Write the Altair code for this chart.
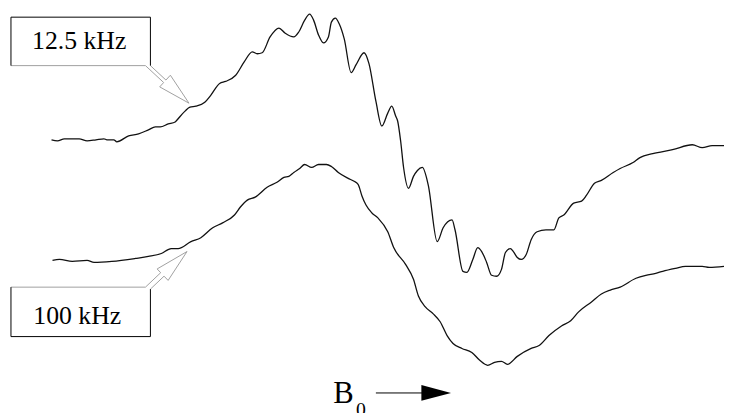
import altair as alt
import pandas as pd

# ---- data (field = horizontal position, defl = vertical position, screen-down) ----
top_field = [52, 58, 65, 80, 88, 97, 105, 108, 115, 118, 130, 140, 150, 157, 162, 170, 177, 178,
             187, 192, 198, 207, 213, 222, 228, 238, 247, 255, 260, 265, 273, 282, 288, 297, 302,
             308, 313, 317, 322, 327, 332, 335, 339, 343, 348, 355, 360, 368, 373, 380, 386, 392,
             396, 400, 402, 405, 408, 413, 418, 422, 427, 433, 442, 448, 457, 460, 468, 472, 478,
             483, 487, 492, 497, 502, 507, 511, 516, 519, 523, 527, 532, 537, 543, 552, 560, 565,
             570, 580, 588, 593, 601, 608, 620, 627, 640, 647, 660, 680, 700, 710, 720, 732]
top_defl = [139, 140, 138, 138, 140, 139, 138, 139, 139, 141, 135, 133, 129, 126, 126, 123, 121, 120,
            110, 106, 105, 101, 94, 82, 80, 74, 60, 50, 52, 51, 35, 26, 31, 35, 30,
            18, 12, 18, 33, 41, 35, 20, 16, 22, 37, 71, 63, 51, 62, 100, 125, 112,
            105, 115, 120, 140, 167, 188, 176, 170, 167, 185, 242, 228, 220, 230, 272, 273, 260,
            248, 252, 263, 276, 277, 270, 253, 249, 252, 258, 260, 255, 240, 232, 230, 230, 218,
            215, 203, 201, 195, 183, 180, 172, 168, 162, 157, 153, 149, 144, 147, 145, 145]

bot_field = [53, 60, 73, 88, 95, 113, 137, 150, 163, 173, 180, 193, 203, 215, 225, 237, 243, 250,
             258, 270, 280, 287, 292, 297, 303, 308, 315, 322, 330, 335, 342, 352, 358, 362, 366,
             370, 376, 382, 392, 398, 410, 418, 423, 430, 438, 445, 452, 458, 467, 477, 485, 493,
             500, 507, 513, 523, 537, 545, 555, 568, 577, 585, 598, 608, 617, 627, 643, 653, 663,
             670, 683, 693, 710, 717, 732]
bot_defl = [261, 260, 262, 261, 263, 262, 259, 257, 254, 249, 249, 242, 238, 228, 223, 215, 207, 200,
            197, 187, 182, 177, 176, 172, 168, 164, 167, 164, 164, 166, 172, 178, 181, 184, 196,
            205, 213, 218, 232, 248, 265, 280, 297, 308, 315, 323, 337, 345, 350, 354, 362, 367,
            364, 363, 366, 358, 350, 347, 337, 327, 322, 313, 303, 295, 291, 288, 279, 276, 274,
            272, 269, 267, 267, 268, 267]

# callout outlines (annotation geometry)
grey_part = ["a"] * 8 + ["b"] * 8
grey_x = [11, 147, 165.4, 161.4, 191, 172.2, 167.7, 152,
          11, 147, 162.4, 158.8, 189, 169.9, 165.8, 152]
grey_y = [64, 64, 81.1, 85.5, 102, 73.7, 78.6, 64,
          288, 288, 273.4, 269.6, 252, 281.2, 276.9, 290]
black_part = ["a"] * 4 + ["b"] * 4
black_x = [11, 11, 152, 152, 152, 152, 11, 11]
black_y = [64, 15, 15, 64, 290, 338, 338, 288]

label_text = ["12.5 kHz", "100 kHz"]
label_x = [80, 78]
label_y = [47, 325]

X = alt.Scale(domain=[8, 732])
Y = alt.Scale(domain=[8, 413], reverse=True)

curves = pd.concat([
    pd.DataFrame({"field": top_field, "defl": top_defl, "trace": "12.5 kHz"}),
    pd.DataFrame({"field": bot_field, "defl": bot_defl, "trace": "100 kHz"}),
])
grey_df = pd.DataFrame({"x": grey_x, "y": grey_y, "part": grey_part, "i": list(range(len(grey_x)))})
black_df = pd.DataFrame({"x": black_x, "y": black_y, "part": black_part, "i": list(range(len(black_x)))})
labels_df = pd.DataFrame({"t": label_text, "x": label_x, "y": label_y})

curve_layer = alt.Chart(curves).mark_line(
    color="#111111", strokeWidth=1.3, interpolate="monotone"
).encode(
    x=alt.X("field:Q", scale=X, axis=None),
    y=alt.Y("defl:Q", scale=Y, axis=None),
    detail="trace:N",
)

grey_layer = alt.Chart(grey_df).mark_line(color="#a0a0a0", strokeWidth=1).encode(
    x=alt.X("x:Q", scale=X, axis=None),
    y=alt.Y("y:Q", scale=Y, axis=None),
    detail="part:N",
    order="i:Q",
)
black_layer = alt.Chart(black_df).mark_line(color="#000000", strokeWidth=1).encode(
    x=alt.X("x:Q", scale=X, axis=None),
    y=alt.Y("y:Q", scale=Y, axis=None),
    detail="part:N",
    order="i:Q",
)
label_layer = alt.Chart(labels_df).mark_text(
    font="Liberation Serif", fontSize=26, color="#000000", align="center", baseline="alphabetic"
).encode(
    x=alt.X("x:Q", scale=X, axis=None),
    y=alt.Y("y:Q", scale=Y, axis=None),
    text="t:N",
)

b_df = pd.DataFrame({"t": ["B"], "x": [337], "y": [405]})
sub_df = pd.DataFrame({"t": ["0"], "x": [360], "y": [418]})
b_layer = alt.Chart(b_df).mark_text(
    font="Liberation Serif", fontSize=31, color="#000000", align="left", baseline="alphabetic"
).encode(x=alt.X("x:Q", scale=X, axis=None), y=alt.Y("y:Q", scale=Y, axis=None), text="t:N")
sub_layer = alt.Chart(sub_df).mark_text(
    font="Liberation Serif", fontSize=20, color="#000000", align="left", baseline="alphabetic"
).encode(x=alt.X("x:Q", scale=X, axis=None), y=alt.Y("y:Q", scale=Y, axis=None), text="t:N")

arrow_df = pd.DataFrame({"x": [380], "x2": [430], "y": [395]})
shaft = alt.Chart(arrow_df).mark_rule(color="#000000", strokeWidth=1).encode(
    x=alt.X("x:Q", scale=X, axis=None), x2="x2:Q", y=alt.Y("y:Q", scale=Y, axis=None)
)
head_df = pd.DataFrame({"x": [441], "y": [395]})
head = alt.Chart(head_df).mark_point(
    shape="M-1,-0.53L1,0L-1,0.53Z", size=900, filled=True, color="#000000", opacity=1, strokeWidth=0
).encode(x=alt.X("x:Q", scale=X, axis=None), y=alt.Y("y:Q", scale=Y, axis=None))

chart = alt.layer(
    grey_layer, black_layer, curve_layer, label_layer, b_layer, sub_layer, shaft, head
).properties(
    width=724, height=405, padding=0, autosize=alt.AutoSizeParams(type="none"),
    background="white",
).configure_view(stroke=None)

chart.save("out.html", embed_options={"renderer": "svg", "actions": False})
